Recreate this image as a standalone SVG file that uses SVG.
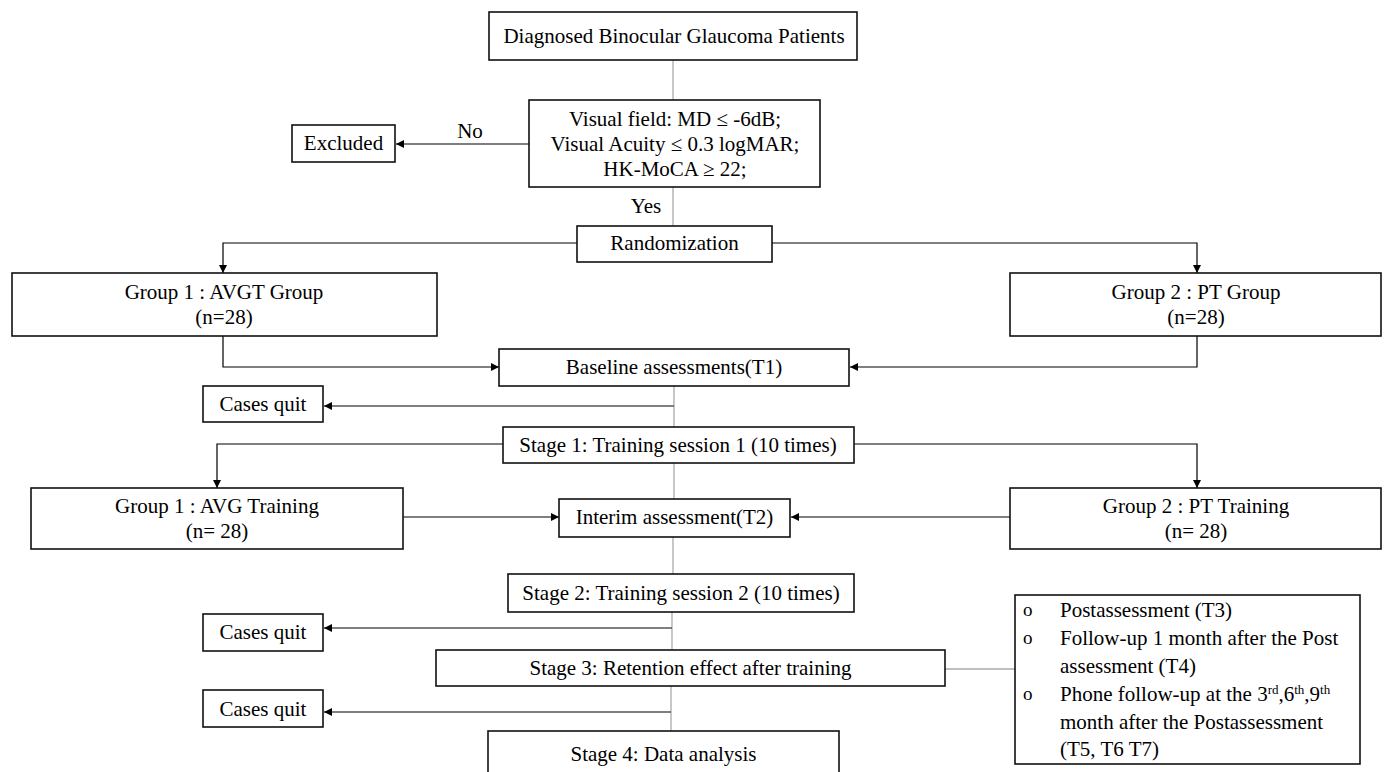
<svg xmlns="http://www.w3.org/2000/svg" width="1389" height="772" viewBox="0 0 1389 772" font-family="Liberation Serif, Times New Roman, serif" font-size="21">
<defs>
<marker id="ah" markerWidth="10" markerHeight="10" refX="9" refY="5" orient="auto" markerUnits="userSpaceOnUse">
<path d="M1,1 L9,5 L1,9 Z" fill="#000"/>
</marker>
<style>
.box{fill:#fff;stroke:#111;stroke-width:1.6}
text{font-family:'Liberation Serif',serif;font-size:21px;fill:#000}
.c{text-anchor:middle}
.b{font-size:19px}
.s{font-size:13px}
.k{fill:none;stroke:#000;stroke-width:1.2}
.g{fill:none;stroke:#aaa;stroke-width:1.3}
.ga{fill:none;stroke:#555;stroke-width:1.3}
</style>
</defs>
<rect width="1389" height="772" fill="#fff"/>
<g id="connectors">
<path class="g" d="M673,60 V100"/>
<path class="k" d="M529,144 H396" marker-end="url(#ah)"/>
<path class="g" d="M673,187 V226"/>
<path class="k" d="M577,243 H223 V273" marker-end="url(#ah)"/>
<path class="k" d="M772,243 H1197 V273" marker-end="url(#ah)"/>
<path class="k" d="M223,336 V367 H499" marker-end="url(#ah)"/>
<path class="k" d="M1197,336 V367 H850" marker-end="url(#ah)"/>
<path class="g" d="M674,386 V427"/>
<path class="ga" d="M674,406 H324" marker-end="url(#ah)"/>
<path class="k" d="M503,444 H217 V488" marker-end="url(#ah)"/>
<path class="k" d="M854,444 H1197 V488" marker-end="url(#ah)"/>
<path class="g" d="M674,463 V499"/>
<path class="k" d="M403,517 H559" marker-end="url(#ah)"/>
<path class="k" d="M1010,517 H791" marker-end="url(#ah)"/>
<path class="g" d="M673,537 V574"/>
<path class="g" d="M672,612 V650"/>
<path class="ga" d="M672,628 H324" marker-end="url(#ah)"/>
<path class="g" d="M945,669 H1015"/>
<path class="g" d="M671,686 V731"/>
<path class="ga" d="M671,712 H324" marker-end="url(#ah)"/>
<text x="470" y="138" class="c">No</text>
<text x="646" y="213" class="c">Yes</text>
</g>
<g id="n-diagnosed"><rect class="box" x="489" y="12" width="368" height="48"/><text x="674" y="43" class="c">Diagnosed Binocular Glaucoma Patients</text></g>
<g id="n-criteria"><rect class="box" x="529" y="100" width="291" height="87"/>
<text x="675" y="126" class="c">Visual field: MD ≤ -6dB;</text>
<text x="675" y="151" class="c">Visual Acuity ≤ 0.3 logMAR;</text>
<text x="675" y="176" class="c">HK-MoCA ≥ 22;</text></g>
<g id="n-excluded"><rect class="box" x="292" y="125" width="103" height="37"/><text x="343.5" y="150" class="c">Excluded</text></g>
<g id="n-random"><rect class="box" x="577" y="226" width="195" height="36"/><text x="674.5" y="250" class="c">Randomization</text></g>
<g id="n-g1"><rect class="box" x="12" y="273" width="425" height="63"/><text x="224" y="299" class="c">Group 1 : AVGT Group</text><text x="224" y="324" class="c">(n=28)</text></g>
<g id="n-g2"><rect class="box" x="1010" y="273" width="371" height="63"/><text x="1196" y="299" class="c">Group 2 : PT Group</text><text x="1196" y="324" class="c">(n=28)</text></g>
<g id="n-baseline"><rect class="box" x="499" y="349" width="350" height="37"/><text x="674" y="374" class="c">Baseline assessments(T1)</text></g>
<g id="n-quit1"><rect class="box" x="203" y="386" width="120" height="36"/><text x="263" y="411" class="c">Cases quit</text></g>
<g id="n-stage1"><rect class="box" x="503" y="427" width="351" height="36"/><text x="678" y="452" class="c">Stage 1: Training session 1 (10 times)</text></g>
<g id="n-g1t"><rect class="box" x="31" y="488" width="372" height="61"/><text x="217" y="513" class="c">Group 1 : AVG Training</text><text x="217" y="538" class="c">(n= 28)</text></g>
<g id="n-g2t"><rect class="box" x="1010" y="488" width="371" height="61"/><text x="1196" y="513" class="c">Group 2 : PT Training</text><text x="1196" y="538" class="c">(n= 28)</text></g>
<g id="n-interim"><rect class="box" x="559" y="499" width="231" height="38"/><text x="674.5" y="524" class="c">Interim assessment(T2)</text></g>
<g id="n-stage2"><rect class="box" x="508" y="574" width="346" height="38"/><text x="681" y="600" class="c">Stage 2: Training session 2 (10 times)</text></g>
<g id="n-quit2"><rect class="box" x="203" y="614" width="120" height="37"/><text x="263" y="639" class="c">Cases quit</text></g>
<g id="n-stage3"><rect class="box" x="436" y="650" width="509" height="36"/><text x="690.5" y="675" class="c">Stage 3: Retention effect after training</text></g>
<g id="n-quit3"><rect class="box" x="203" y="690" width="120" height="37"/><text x="263" y="716" class="c">Cases quit</text></g>
<g id="n-stage4"><rect class="box" x="488" y="731" width="351" height="50"/><text x="663.5" y="761" class="c">Stage 4: Data analysis</text></g>
<g id="n-followup"><rect class="box" x="1015" y="595" width="345" height="169"/>
<text x="1023" y="616" class="b">o</text><text x="1060" y="617">Postassessment (T3)</text>
<text x="1023" y="644" class="b">o</text><text x="1060" y="645">Follow-up 1 month after the Post</text>
<text x="1060" y="673">assessment (T4)</text>
<text x="1023" y="700" class="b">o</text><text x="1060" y="701">Phone follow-up at the 3<tspan dy="-7" class="s">rd</tspan><tspan dy="7">,6</tspan><tspan dy="-7" class="s">th</tspan><tspan dy="7">,9</tspan><tspan dy="-7" class="s">th</tspan></text>
<text x="1060" y="729">month after the Postassessment</text>
<text x="1060" y="756">(T5, T6 T7)</text>
</g>
</svg>
